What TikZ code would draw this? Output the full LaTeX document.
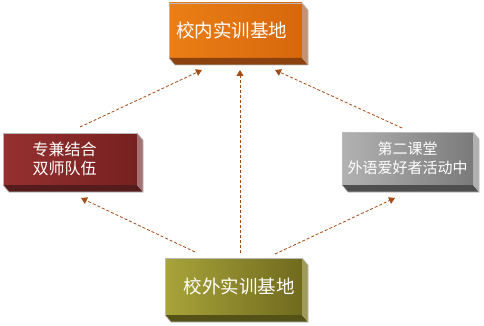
\documentclass[tikz,border=0pt]{standalone}
\usepackage{fontspec}
\newfontfamily\cjk{Noto Sans CJK SC}
\usetikzlibrary{arrows.meta}
\definecolor{arrbrown}{RGB}{165,75,20}
\definecolor{boxedge}{RGB}{185,185,185}
\definecolor{orA}{RGB}{236,126,22}
\definecolor{orB}{RGB}{214,104,12}
\definecolor{orBot}{RGB}{140,66,14}
\definecolor{orSide}{RGB}{196,146,112}
\definecolor{rdA}{RGB}{150,48,48}
\definecolor{rdB}{RGB}{118,32,32}
\definecolor{rdBot}{RGB}{84,28,28}
\definecolor{rdSide}{RGB}{165,115,115}
\definecolor{gyA}{RGB}{178,178,178}
\definecolor{gyB}{RGB}{122,122,122}
\definecolor{gyBot}{RGB}{78,78,78}
\definecolor{gySide}{RGB}{176,176,176}
\definecolor{olA}{RGB}{168,164,58}
\definecolor{olB}{RGB}{112,106,30}
\definecolor{olBot}{RGB}{84,82,22}
\definecolor{olSide}{RGB}{158,156,88}
\newcommand\boxextrude[3]{%
  \fill[#2] (#1.south west) -- (#1.south east) -- ([shift={(6,7)}]#1.south east) -- ([shift={(6,7)}]#1.south west) -- cycle;
  \fill[#3] (#1.north east) -- ([shift={(6,7)}]#1.north east) -- ([shift={(6,7)}]#1.south east) -- (#1.south east) -- cycle;
  \draw[boxedge,line width=0.6pt] (#1.south west) -- ([shift={(6,7)}]#1.south west) -- ([shift={(6,7)}]#1.south east) -- ([shift={(6,7)}]#1.north east) -- (#1.north east);
}
\begin{document}
\begin{tikzpicture}[x=1pt,y=-1pt,
  facebox/.style={draw=boxedge,line width=0.6pt,inner sep=0pt,outer sep=0pt,text=white,align=center},
  arr/.style={draw=arrbrown,line width=0.8pt,dash pattern=on 3pt off 2pt,-{Triangle[width=7pt,length=6pt]}}]
\useasboundingbox (0,0) rectangle (484,326);
\node[facebox,minimum width=133pt,minimum height=55pt,left color=orA,right color=orB,
  font=\cjk\fontsize{18.5}{22}\selectfont] (T) at (235.5,30.5) {校内实训基地\hspace*{8pt}};
\node[facebox,minimum width=134pt,minimum height=52pt,left color=rdA,right color=rdB,
  font=\cjk\fontsize{16}{18.5}\selectfont] (L) at (70,159) {\raisebox{-2pt}{专兼结合}\hspace*{11pt}\\\raisebox{-2pt}{双师队伍}\hspace*{11pt}};
\node[facebox,minimum width=131pt,minimum height=53pt,left color=gyA,right color=gyB,
  font=\cjk\fontsize{15}{19}\selectfont] (R) at (407.5,158.5) {第二课堂\\外语爱好者活动中};
\node[facebox,minimum width=137pt,minimum height=57pt,left color=olA,right color=olB,
  font=\cjk\fontsize{18.5}{22}\selectfont] (B) at (233.5,286.5) {\hspace*{11pt}校外实训基地};
\boxextrude{T}{orBot}{orSide}
\boxextrude{L}{rdBot}{rdSide}
\boxextrude{R}{gyBot}{gySide}
\boxextrude{B}{olBot}{olSide}
\draw[arr] ([xshift=10pt,yshift=6pt]L.north) -- ([xshift=-33.5pt,yshift=-12pt]T.south);
\draw[arr] ([xshift=-5.5pt,yshift=4pt]R.north) -- ([xshift=39.5pt,yshift=-12pt]T.south);
\draw[arr] ([xshift=6.5pt,yshift=5pt]B.north) -- ([xshift=4.5pt,yshift=-12pt]T.south);
\draw[arr] ([xshift=-38.5pt,yshift=6pt]B.north) -- ([xshift=11pt,yshift=-13pt]L.south);
\draw[arr] ([xshift=41.5pt,yshift=4pt]B.north) -- ([xshift=-12.5pt,yshift=-13pt]R.south);
\end{tikzpicture}
\end{document}
